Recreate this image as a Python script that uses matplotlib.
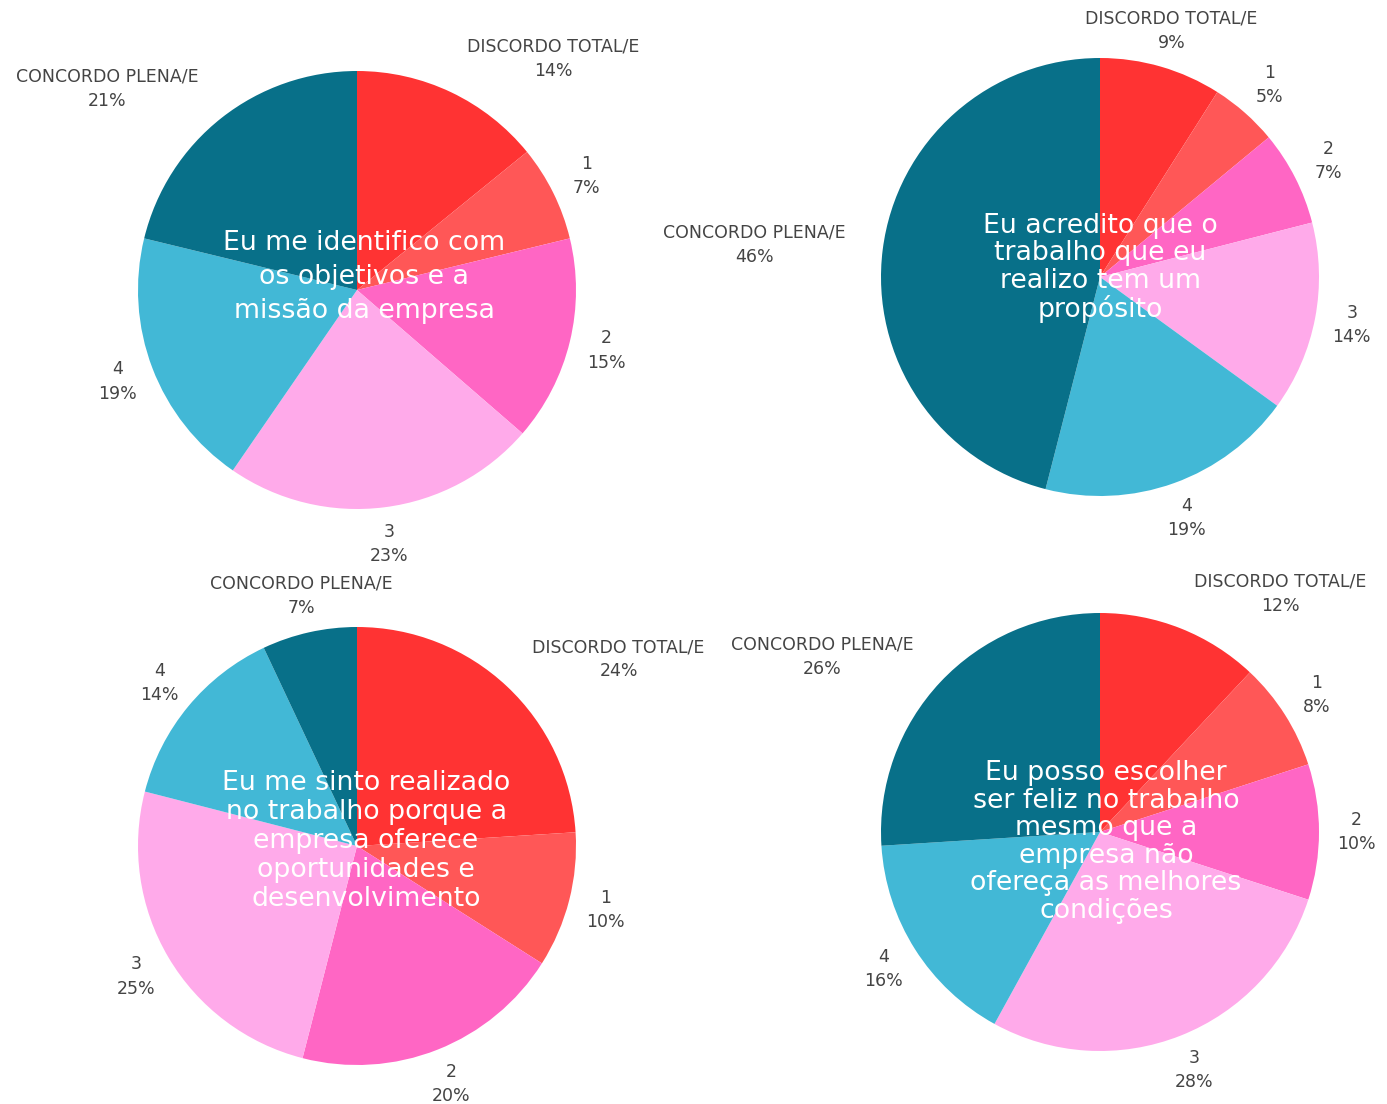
import numpy as np
import matplotlib
matplotlib.use("Agg")
import matplotlib.pyplot as plt

# ---------------- data ----------------
categories = ["DISCORDO TOTAL/E", "1", "2", "3", "4", "CONCORDO PLENA/E"]

titles = [
    "Eu me identifico com\nos objetivos e a\nmissão da empresa",
    "Eu acredito que o\ntrabalho que eu\nrealizo tem um\npropósito",
    "Eu me sinto realizado\nno trabalho porque a\nempresa oferece\noportunidades e\ndesenvolvimento",
    "Eu posso escolher\nser feliz no trabalho\nmesmo que a\nempresa não\nofereça as melhores\ncondições",
]

values_q1 = [14, 7, 15, 23, 19, 21]
values_q2 = [9, 5, 7, 14, 19, 46]
values_q3 = [24, 10, 20, 25, 14, 7]
values_q4 = [12, 8, 10, 28, 16, 26]
all_values = [values_q1, values_q2, values_q3, values_q4]

# ---------------- style ----------------
colors = ["#FF3333", "#FF5757", "#FF66C4", "#FFAAEA", "#42B8D6", "#087089"]
label_color = "#444444"

W, H = 1387, 1104
R = 219
centers_px = [(357, 290), (1100, 277), (357, 846), (1100, 832)]
aligns = [
    ["left", "center", "center", "center", "center", "right"],
    ["center", "center", "center", "center", "center", "right"],
    ["left", "center", "center", "center", "center", "center"],
    ["left", "center", "center", "center", "center", "right"],
]
title_spacing = [1.38, 1.08, 1.15, 1.08]
title_offsets = [(7, 13), (0, 9), (9, 5), (6, -10)]

fig = plt.figure(figsize=(W / 100, H / 100), dpi=100)
fig.patch.set_facecolor("white")

for i, vals in enumerate(all_values):
    cx, cy = centers_px[i]
    ax = fig.add_axes([(cx - R) / W, (H - cy - R) / H, 2 * R / W, 2 * R / H])
    ax.pie(vals, colors=colors, startangle=90, counterclock=False,
           radius=1.0, wedgeprops=dict(linewidth=0))
    ax.set_xlim(-1, 1)
    ax.set_ylim(-1, 1)
    ax.set_aspect("equal")
    ax.axis("off")

    total = float(sum(vals))
    cum = np.cumsum([0] + list(vals))
    for j, v in enumerate(vals):
        mid = (cum[j] + cum[j + 1]) / 2 / total * 2 * np.pi
        d = 1.17
        x, y = d * np.sin(mid), d * np.cos(mid)
        ax.text(x, y, f"{categories[j]}\n{v}%", ha=aligns[i][j], va="center",
                multialignment="center", fontsize=12.5, color=label_color,
                linespacing=1.45, clip_on=False, family="DejaVu Sans")

    ox, oy = title_offsets[i]
    ax.text(ox / R, oy / R, titles[i], ha="center", va="center",
            multialignment="center", fontsize=19.3, color="white",
            linespacing=title_spacing[i], clip_on=False, family="DejaVu Sans")

fig.savefig("out.png", dpi=100, facecolor="white")
